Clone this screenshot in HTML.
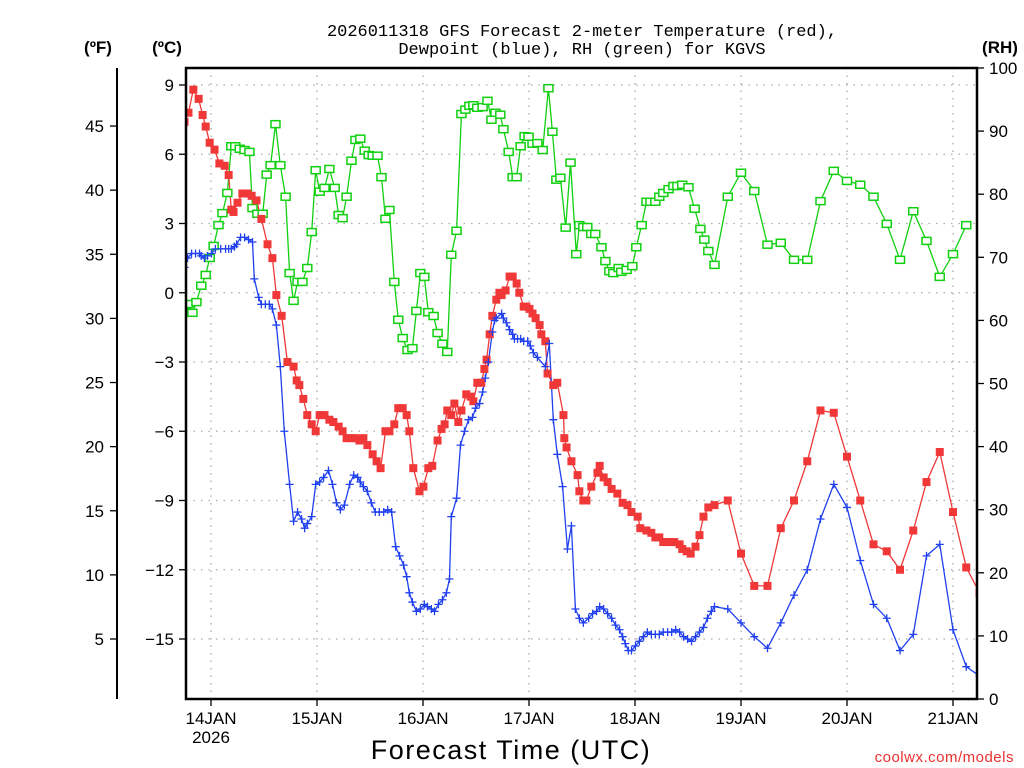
<!DOCTYPE html>
<html><head><meta charset="utf-8">
<style>
html,body{margin:0;padding:0;background:#fff;}
svg{display:block;font-family:"Liberation Sans",sans-serif;}
</style></head>
<body>
<svg id="chart" width="1024" height="768" viewBox="0 0 1024 768" xmlns="http://www.w3.org/2000/svg">
<defs><clipPath id="clip"><rect x="186" y="60" width="791" height="640"/></clipPath></defs>
<g id="grid"></g>
<g id="axes"></g>
<g id="series" clip-path="url(#clip)"></g>
<rect x="186" y="68" width="791" height="631" fill="none" stroke="#000" stroke-width="2.5"/>
<text x="582" y="36" text-anchor="middle" font-family="Liberation Mono, monospace" font-size="17">2026011318 GFS Forecast 2-meter Temperature (red),</text>
<text x="582" y="54" text-anchor="middle" font-family="Liberation Mono, monospace" font-size="17">Dewpoint (blue), RH (green) for KGVS</text>
<text x="98" y="53" text-anchor="middle" font-size="17" font-weight="bold">(ºF)</text>
<text x="167" y="53" text-anchor="middle" font-size="17" font-weight="bold">(ºC)</text>
<text x="1000" y="53" text-anchor="middle" font-size="17" font-weight="bold">(RH)</text>
<text x="511" y="759" text-anchor="middle" font-size="27" letter-spacing="1.5">Forecast Time (UTC)</text>
<text x="1014" y="762" text-anchor="end" font-size="15" fill="#e83030" letter-spacing="0.5">coolwx.com/models</text>
</svg>
<script>
const dayLabels=["14JAN","15JAN","16JAN","17JAN","18JAN","19JAN","20JAN","21JAN"];
const dayHours=[6,30,54,78,102,126,150,174];
const cTicks=[9,6,3,0,-3,-6,-9,-12,-15];
const fTicks=[45,40,35,30,25,20,15,10,5];
const rhTicks=[100,90,80,70,60,50,40,30,20,10,0];
const tempHours=[0,0.9,2.0,3.2,4.1,4.8,5.7,6.8,7.9,9.1,10.0,10.6,11.1,12.0,13.1,14.3,15.2,16.3,17.4,18.8,19.9,20.8,22.0,23.3,24.7,25.4,26.0,26.9,27.8,28.8,29.7,30.6,31.7,32.8,33.7,34.9,35.8,36.7,37.6,38.7,39.6,40.5,41.4,42.6,43.5,44.4,45.5,46.4,47.5,48.4,49.4,50.3,50.9,51.8,53.2,54.1,55.2,56.1,57.3,58.2,58.9,59.5,60.4,61.1,62.0,62.7,63.8,64.8,65.4,66.3,67.2,67.9,68.4,69.1,69.7,70.6,71.3,71.8,72.7,73.6,74.3,75.2,75.8,76.8,77.4,78.1,78.8,79.5,80.4,80.8,81.7,82.2,83.5,84.4,85.8,86.0,86.5,87.6,89.0,89.4,90.3,91.0,92.1,93.5,94.0,94.9,95.8,96.7,98.0,99.2,100.3,101.2,102.6,103.2,104.6,105.7,106.6,107.5,108.4,109.1,110.0,110.9,112.1,112.7,113.7,114.6,115.7,116.6,117.5,118.6,120,123,126,129,132,135,138,141,144,147,150,153,156,159,162,165,168,171,174,177,180];
const tempC=[7.4,7.8,8.8,8.4,7.7,7.2,6.5,6.2,5.6,5.5,5.1,3.6,3.5,3.9,4.3,4.3,4.2,4.0,3.2,2.1,1.5,-0.1,-1.0,-3.0,-3.2,-3.8,-4.0,-4.6,-5.3,-5.7,-6.0,-5.3,-5.3,-5.5,-5.6,-5.8,-6.0,-6.3,-6.3,-6.3,-6.4,-6.3,-6.6,-7.0,-7.3,-7.6,-6.0,-6.0,-5.7,-5.0,-5.0,-5.3,-6.0,-7.6,-8.6,-8.4,-7.6,-7.5,-6.4,-5.9,-5.7,-5.1,-5.3,-4.8,-5.6,-5.1,-4.4,-4.5,-4.7,-3.9,-3.9,-3.3,-2.9,-1.8,-1.0,-0.3,0.0,-0.1,0.1,0.7,0.7,0.4,0.0,-0.6,-0.6,-0.7,-0.9,-1.1,-1.4,-1.8,-2.1,-3.5,-4.0,-3.9,-5.3,-6.3,-6.7,-7.3,-7.9,-8.6,-9.0,-9.0,-8.4,-7.8,-7.5,-8.0,-8.2,-8.5,-8.7,-9.1,-9.2,-9.5,-9.7,-10.2,-10.3,-10.4,-10.6,-10.6,-10.8,-10.8,-10.8,-10.8,-10.9,-11.1,-11.2,-11.3,-11.0,-10.5,-9.7,-9.3,-9.2,-9.0,-11.3,-12.7,-12.7,-10.2,-9.0,-7.3,-5.1,-5.2,-7.1,-9.0,-10.9,-11.2,-12.0,-10.3,-8.2,-6.9,-9.5,-11.9,-13.0];
const dewHours=[0,0.7,1.6,2.5,3.4,3.8,4.5,5.2,6.1,7.0,8.2,9.3,10.0,10.6,11.3,11.8,12.7,13.6,14.5,15.4,15.8,16.8,17.4,18.3,19.2,19.9,20.8,21.7,22.6,23.8,24.7,25.6,26.5,27.2,27.8,28.8,29.7,30.6,31.5,32.6,33.5,34.4,35.3,36.2,37.4,38.3,39.2,39.8,40.5,41.4,42.3,43.2,44.1,45.1,46.0,46.9,47.8,48.7,49.6,50.3,50.9,51.6,52.5,53.4,54.3,55.0,55.9,56.6,57.5,58.4,59.3,60.0,60.4,61.6,62.5,63.4,64.3,65.2,65.9,66.8,67.5,68.1,68.8,69.7,70.2,70.6,71.8,72.2,72.9,73.6,74.3,74.7,75.4,76.1,76.8,77.7,78.3,79.0,79.9,81.7,82.6,83.5,84.4,85.6,86.7,87.6,88.5,89.4,90.3,91.5,92.4,93.3,94.0,94.9,95.8,96.7,97.6,98.5,99.2,99.8,100.5,101.2,102.1,103.0,103.9,104.8,105.7,106.6,107.5,108.4,109.4,110.3,111.2,112.1,113.0,113.9,114.8,115.7,116.6,117.5,118.4,119.3,120,123,126,129,132,135,138,141,144,147,150,153,156,159,162,165,168,171,174,177,180];
const dewC=[1.1,1.5,1.7,1.7,1.7,1.6,1.5,1.6,1.7,1.9,1.9,1.9,1.9,1.9,2.0,2.1,2.4,2.4,2.3,2.2,0.6,-0.2,-0.5,-0.5,-0.5,-0.7,-1.4,-3.2,-6.0,-8.3,-9.9,-9.5,-9.8,-10.2,-10.0,-9.7,-8.3,-8.2,-8.0,-7.7,-8.3,-9.1,-9.4,-9.2,-8.3,-7.9,-8.0,-8.2,-8.4,-8.6,-9.1,-9.5,-9.5,-9.5,-9.4,-9.5,-11.0,-11.4,-11.8,-12.3,-13.0,-13.4,-13.8,-13.7,-13.5,-13.6,-13.7,-13.8,-13.5,-13.3,-13.0,-12.4,-9.7,-8.9,-6.6,-6.0,-5.5,-5.4,-5.0,-4.8,-4.3,-3.7,-3.0,-1.7,-1.2,-1.1,-0.9,-1.1,-1.3,-1.6,-1.8,-2.0,-2.0,-2.0,-2.1,-2.1,-2.3,-2.6,-2.8,-3.2,-2.2,-5.5,-7.0,-8.4,-11.1,-10.1,-13.7,-14.1,-14.3,-14.1,-13.9,-13.8,-13.6,-13.7,-13.9,-14.1,-14.4,-14.6,-14.9,-15.2,-15.5,-15.5,-15.3,-15.1,-14.9,-14.7,-14.8,-14.8,-14.8,-14.7,-14.7,-14.7,-14.6,-14.7,-14.9,-15.0,-15.1,-14.9,-14.7,-14.5,-14.1,-13.8,-13.6,-13.7,-14.3,-14.9,-15.4,-14.3,-13.1,-12.0,-9.8,-8.3,-9.3,-11.6,-13.5,-14.1,-15.5,-14.8,-11.4,-10.9,-14.6,-16.2,-16.6];
const rhHours=[0,0.9,1.8,2.7,3.8,4.8,5.7,6.6,7.7,8.6,9.7,10.6,11.5,12.5,13.6,14.7,15.4,16.5,17.7,18.6,19.5,20.6,21.7,22.9,23.8,24.7,25.6,26.7,27.8,28.8,29.7,30.6,31.7,32.8,34.0,34.9,35.8,36.7,37.8,38.7,39.8,40.8,41.7,42.6,43.7,44.6,45.5,46.4,47.5,48.4,49.4,50.5,51.6,52.5,53.4,54.3,55.2,56.4,57.3,58.4,59.5,60.4,61.6,62.7,63.6,64.5,65.4,66.3,67.5,68.6,69.5,70.4,71.5,72.2,73.4,74.3,75.2,76.1,77.0,77.9,78.8,79.9,81.1,82.4,83.3,84.2,85.1,86.3,87.4,88.7,89.4,90.3,91.2,92.1,93.0,94.4,95.3,96.2,97.1,98.3,98.9,100.1,101.4,102.3,103.5,104.6,105.5,106.6,107.5,108.4,109.6,110.7,111.6,112.7,114.1,115.5,116.8,117.7,118.6,120,123,126,129,132,135,138,141,144,147,150,153,156,159,162,165,168,171,174,177,180];
const rhVals=[62.4,62.6,61.2,62.9,65.5,67.2,69.9,71.8,75.1,77.0,80.2,87.6,87.6,87.2,87.0,86.7,77.8,76.9,76.9,83.1,84.6,91.1,84.6,79.6,67.5,63.1,66.1,66.1,68.3,74.0,83.8,80.4,81.0,84.0,81.0,76.7,76.2,79.6,85.3,88.6,88.8,86.9,86.2,86.1,86.1,82.7,76.1,77.5,66.1,60.1,57.2,55.3,55.6,61.5,67.5,66.9,61.3,60.7,58.0,56.3,55.0,70.4,74.2,92.7,93.4,94.0,94.1,93.7,93.8,94.8,91.8,92.9,92.6,90.3,86.7,82.7,82.7,87.6,89.2,89.1,88.0,88.1,87.0,96.8,89.9,82.3,82.6,74.7,85.0,70.5,75.1,74.8,74.8,73.7,73.7,71.6,69.4,67.8,67.5,68.3,67.7,68.0,68.6,71.6,75.1,78.8,78.8,78.8,79.6,80.2,80.8,81.3,81.3,81.5,81.1,77.7,74.5,72.8,71.0,68.8,79.6,83.4,80.5,72.0,72.3,69.6,69.6,78.9,83.7,82.1,81.5,79.6,75.3,69.6,77.3,72.6,66.9,70.5,75.1];

const NS="http://www.w3.org/2000/svg";
const xOf=h=>184.5+h*4.4167;
const yC=c=>85+(9-c)*(554/24);
const yF=f=>yC((f-32)*5/9);
const yRH=r=>699-r*6.31;
function mk(tag,attrs,parent){const e=document.createElementNS(NS,tag);for(const k in attrs)e.setAttribute(k,attrs[k]);parent.appendChild(e);return e;}
const grid=document.getElementById('grid'),axes=document.getElementById('axes'),ser=document.getElementById('series');

cTicks.forEach(c=>{
  const y=yC(c);
  const g=mk('line',{x1:186,x2:977,y1:y,y2:y,stroke:'#aaa','stroke-width':1.3,'stroke-dasharray':'1.5 6'},grid);
  
  
  mk('line',{x1:179,x2:186,y1:y,y2:y,stroke:'#000','stroke-width':1.3},axes);
  const t=mk('text',{x:174,y:y+6,'text-anchor':'end','font-size':17},axes);
  t.textContent=c<0?'\u2212'+(-c):String(c);
  
  
});
dayHours.forEach((h,i)=>{
  const x=xOf(h);
  const g=mk('line',{x1:x,x2:x,y1:68,y2:699,stroke:'#aaa','stroke-width':1.3,'stroke-dasharray':'1.5 6'},grid);
  
  
  mk('line',{x1:x,x2:x,y1:699,y2:706,stroke:'#000','stroke-width':1.3},axes);
  const t=mk('text',{x:x,y:724,'text-anchor':'middle','font-size':17},axes);
  t.textContent=dayLabels[i];
  
  
});
{const t=mk('text',{x:xOf(dayHours[0]),y:743,'text-anchor':'middle','font-size':17},axes);
t.textContent='2026';

}
{const l=mk('line',{x1:117,x2:117,y1:68,y2:699,stroke:'#000','stroke-width':2},axes);

}
fTicks.forEach(f=>{
  const y=yF(f);
  mk('line',{x1:110,x2:117,y1:y,y2:y,stroke:'#000','stroke-width':1.3},axes);
  const t=mk('text',{x:104,y:y+6,'text-anchor':'end','font-size':17},axes);
  t.textContent=String(f);
  
  
});
rhTicks.forEach(r=>{
  const y=yRH(r);
  mk('line',{x1:977,x2:984,y1:y,y2:y,stroke:'#000','stroke-width':1.3},axes);
  const t=mk('text',{x:989,y:y+6,'text-anchor':'start','font-size':17},axes);
  t.textContent=String(r);
  
  
});

function line(hs,vs,yf,color,name){
  const p=mk('polyline',{points:hs.map((h,i)=>xOf(h).toFixed(1)+','+yf(vs[i]).toFixed(1)).join(' '),fill:'none',stroke:color,'stroke-width':1.3},ser);
  
  
}
line(rhHours,rhVals,yRH,'#10d010','rh-line');
line(tempHours,tempC,yC,'#f03838','temperature-line');
line(dewHours,dewC,yC,'#2040f0','dewpoint-line');
rhHours.forEach((h,i)=>{
  const m=mk('rect',{x:xOf(h)-4.5,y:yRH(rhVals[i])-3.5,width:9,height:7,fill:'#fff',stroke:'#10d010','stroke-width':1.5},ser);
  
  
});
tempHours.forEach((h,i)=>{
  const m=mk('rect',{x:xOf(h)-4,y:yC(tempC[i])-4,width:8,height:8,fill:'#f03838'},ser);
  
  
});
dewHours.forEach((h,i)=>{
  const x=xOf(h),y=yC(dewC[i]);
  const m=mk('path',{d:`M${x-4} ${y}H${x+4}M${x} ${y-4}V${y+4}`,stroke:'#2040f0','stroke-width':1.3,fill:'none'},ser);
  
  
});
</script>
</body></html>
